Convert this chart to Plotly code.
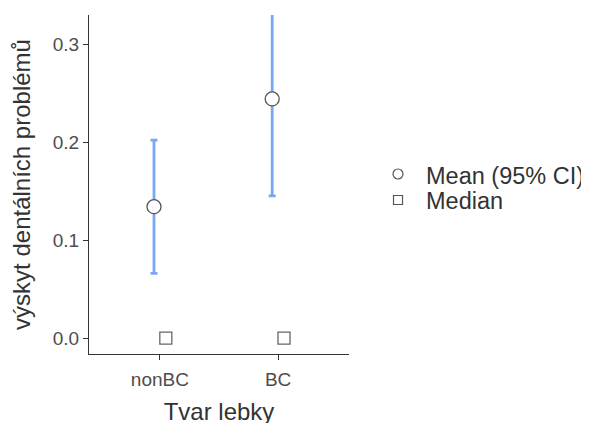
import plotly.graph_objects as go

categories = ["nonBC", "BC"]
mean_vals = [0.134, 0.244]
ci_lower = [0.066, 0.145]
ci_upper = [0.202, 0.36]
median_vals = [0.0, 0.0]
y_ticks = [0.0, 0.1, 0.2, 0.3]
y_tick_labels = ["0.0", "0.1", "0.2", "0.3"]
legend_labels = ["Mean (95% CI)", "Median"]

pos = list(range(1, len(categories) + 1))
dodge = 0.05
blue = "#7aa8f0"

fig = go.Figure()
fig.add_trace(go.Scatter(
    x=[p - dodge for p in pos], y=mean_vals, mode="markers",
    marker=dict(symbol="circle", size=14, color="white", line=dict(color="#555555", width=1.3)),
    error_y=dict(type="data", symmetric=False,
                 array=[u - m for u, m in zip(ci_upper, mean_vals)],
                 arrayminus=[m - l for m, l in zip(mean_vals, ci_lower)],
                 color=blue, thickness=2.8, width=3.5),
    showlegend=False, hoverinfo="skip"))
fig.add_trace(go.Scatter(
    x=[p + dodge for p in pos], y=median_vals, mode="markers",
    marker=dict(symbol="square", size=12, color="white", line=dict(color="#666666", width=1.3)),
    showlegend=False, hoverinfo="skip"))

# manual legend (glyphs + labels)
leg_x_sym = 1.1885
leg_x_txt = 1.2885
leg_y_sym = [0.531, 0.4543]
leg_y_txt = [0.525, 0.4499]
shapes = [
    dict(type="circle", xref="paper", yref="paper", xsizemode="pixel", ysizemode="pixel",
         xanchor=leg_x_sym, yanchor=leg_y_sym[0], x0=-5, x1=5, y0=-5, y1=5,
         line=dict(color="#555555", width=1.2), fillcolor="white"),
    dict(type="rect", xref="paper", yref="paper", xsizemode="pixel", ysizemode="pixel",
         xanchor=leg_x_sym, yanchor=leg_y_sym[1], x0=-4.5, x1=4.5, y0=-4.5, y1=4.5,
         line=dict(color="#555555", width=1.2), fillcolor="white"),
]
annotations = [
    dict(text=lbl, xref="paper", yref="paper", x=leg_x_txt, y=yy, xanchor="left",
         yanchor="middle", showarrow=False, font=dict(size=23.5, color="#333333"))
    for lbl, yy in zip(legend_labels, leg_y_txt)
]

fig.update_layout(
    width=589, height=423,
    margin=dict(l=81, r=248, t=7, b=77),
    paper_bgcolor="white", plot_bgcolor="white",
    showlegend=False,
    shapes=shapes, annotations=annotations,
    font=dict(family="Liberation Sans, Arial, sans-serif", color="#333333"),
    xaxis=dict(range=[0.4, 2.6], tickmode="array", tickvals=pos, ticktext=categories,
               showline=True, linecolor="#333333", linewidth=1.3, ticks="outside",
               ticklen=5, tickcolor="#333333", tickwidth=1.3, showgrid=False, zeroline=False,
               automargin=False, ticklabelstandoff=3,
               tickfont=dict(size=19, color="#4d4d4d"),
               title=dict(text="Tvar lebky", font=dict(size=24, color="#333333"), standoff=14)),
    yaxis=dict(range=[-0.0163, 0.3296], tickmode="array", tickvals=y_ticks, ticktext=y_tick_labels,
               showline=True, linecolor="#333333", linewidth=1.3, ticks="outside",
               ticklen=5, tickcolor="#333333", tickwidth=1.3, showgrid=False, zeroline=False,
               automargin=False,
               tickfont=dict(size=19, color="#4d4d4d"),
               title=dict(text="výskyt dentálních problémů", font=dict(size=24, color="#333333"), standoff=22)),
)

fig.write_html("out.html")
